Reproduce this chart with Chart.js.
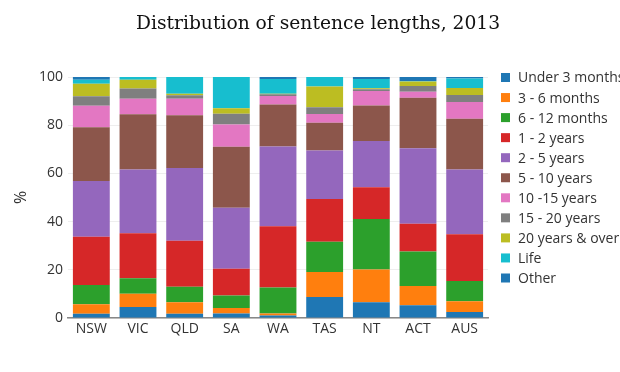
<!DOCTYPE html>
<html lang="en">
<head>
  <meta charset="UTF-8">
  <title>Distribution of sentence lengths, 2013</title>
  <script src="https://cdn.jsdelivr.net/npm/chart.js"></script>
  <style>
    body { margin: 0; padding: 0; background: #fff; }
    canvas { display: block; }
  </style>
</head>
<body>
  <canvas id="chart" width="620" height="372"></canvas>
  <script>
    // Categories (jurisdictions)
    const states = ['NSW', 'VIC', 'QLD', 'SA', 'WA', 'TAS', 'NT', 'ACT', 'AUS'];

    // Share of sentences (%) per length band
    const under3Months = [1.8, 4.6, 1.8, 1.9, 1.0, 8.7, 6.5, 5.3, 2.5];
    const months3to6 = [3.9, 5.5, 4.7, 2.3, 0.9, 10.4, 13.6, 8.0, 4.4];
    const months6to12 = [8.0, 6.4, 6.5, 5.1, 10.8, 12.5, 21.0, 14.3, 8.5];
    const years1to2 = [20.0, 18.7, 19.1, 11.1, 25.4, 17.8, 13.2, 11.5, 19.4];
    const years2to5 = [23.1, 26.4, 30.1, 25.3, 33.1, 20.1, 19.1, 31.3, 26.8];
    const years5to10 = [22.3, 22.9, 21.9, 25.4, 17.4, 11.5, 14.8, 21.0, 21.1];
    const years10to15 = [9.0, 6.5, 6.9, 9.2, 3.5, 3.6, 6.0, 2.5, 6.9];
    const years15to20 = [3.9, 4.2, 1.4, 4.5, 0.7, 2.8, 0.7, 2.4, 2.9];
    const years20plus = [5.2, 3.7, 0.7, 2.2, 0.3, 8.7, 0.4, 1.8, 2.9];
    const life = [1.7, 1.1, 6.9, 13.0, 6.1, 3.9, 3.9, 0.2, 4.0];
    const other = [1.1, 0, 0, 0, 0.8, 0, 0.8, 1.7, 0.6];

    const yTicks = [0, 20, 40, 60, 80, 100];

    const series = [
      ['Under 3 months', under3Months, '#1f77b4'],
      ['3 - 6 months', months3to6, '#ff7f0e'],
      ['6 - 12 months', months6to12, '#2ca02c'],
      ['1 - 2 years', years1to2, '#d62728'],
      ['2 - 5 years', years2to5, '#9467bd'],
      ['5 - 10 years', years5to10, '#8c564b'],
      ['10 -15 years', years10to15, '#e377c2'],
      ['15 - 20 years', years15to20, '#7f7f7f'],
      ['20 years & over', years20plus, '#bcbd22'],
      ['Life', life, '#17becf'],
      ['Other', other, '#1f77b4']
    ];

    const FONT = '"Open Sans", sans-serif';

    // Title + legend drawn by hand so the plot area stays put
    const sideLegend = {
      id: 'sideLegend',
      afterDraw(chart) {
        const ctx = chart.ctx;
        ctx.save();
        ctx.fillStyle = '#111';
        ctx.font = '18.7px "DejaVu Serif", serif';
        ctx.textAlign = 'center';
        ctx.textBaseline = 'middle';
        ctx.fillText('Distribution of sentence lengths, 2013', 318, 24);

        ctx.font = '14px ' + FONT;
        ctx.textAlign = 'left';
        chart.data.datasets.forEach((ds, i) => {
          const y = 77.5 + i * 20.05;
          ctx.fillStyle = ds.backgroundColor;
          ctx.fillRect(501, y - 4.5, 9, 9);
          ctx.fillStyle = '#333';
          ctx.fillText(ds.label, 518, y + 1);
        });
        ctx.restore();
      }
    };

    new Chart(document.getElementById('chart'), {
      type: 'bar',
      data: {
        labels: states,
        datasets: series.map(([label, data, color]) => ({
          label: label,
          data: data,
          backgroundColor: color,
          borderWidth: 0,
          barPercentage: 0.79,
          categoryPercentage: 1
        }))
      },
      options: {
        responsive: false,
        animation: false,
        devicePixelRatio: 1,
        layout: { padding: { top: 77, right: 132, bottom: 24, left: 0 } },
        plugins: {
          legend: { display: false },
          title: { display: false },
          tooltip: { enabled: false }
        },
        scales: {
          x: {
            stacked: true,
            grid: { display: false, drawTicks: false },
            border: { color: '#888', width: 1.5 },
            ticks: { color: '#333', font: { family: FONT, size: 14 }, padding: 3 },
            afterFit(scale) { scale.height = 30; }
          },
          y: {
            stacked: true,
            min: 0,
            max: 100,
            afterBuildTicks(scale) { scale.ticks = yTicks.map(v => ({ value: v })); },
            grid: { color: '#eee', drawTicks: false },
            border: { display: false },
            ticks: { color: '#333', font: { family: FONT, size: 14 }, padding: 5 },
            title: { display: true, text: '%', color: '#333', font: { family: FONT, size: 16 }, padding: { top: 12, bottom: 0 } },
            afterFit(scale) { scale.width = 68; }
          }
        }
      },
      plugins: [sideLegend]
    });
  </script>
</body>
</html>
